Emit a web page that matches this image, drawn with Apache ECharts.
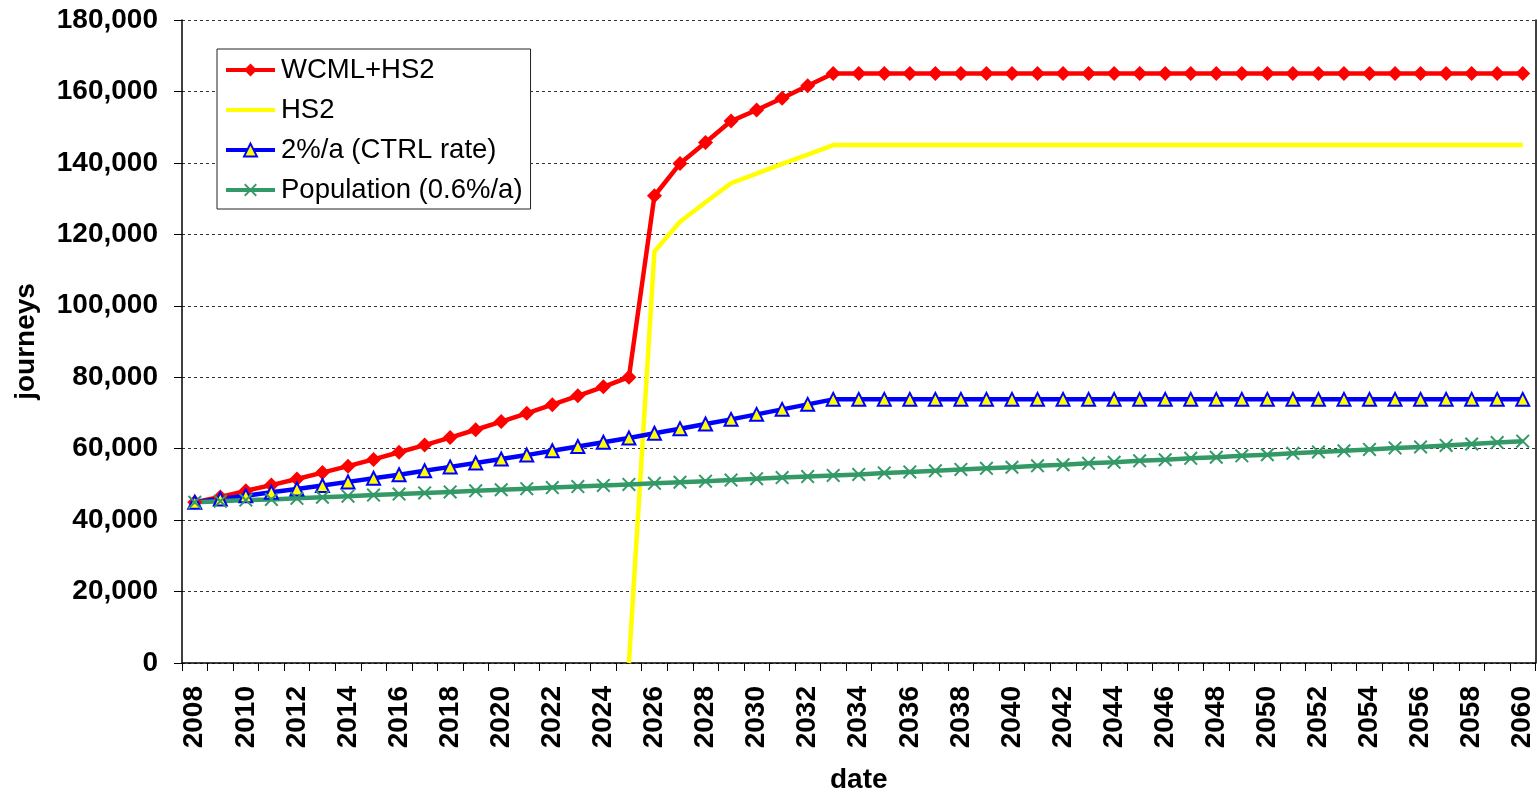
<!DOCTYPE html>
<html>
<head>
<meta charset="utf-8">
<script src="https://cdn.jsdelivr.net/npm/echarts@6/dist/echarts.min.js"></script>
<style>
html,body{margin:0;padding:0;background:#fff;overflow:hidden;}
#chart{width:100vw;height:100vh;}
</style>
</head>
<body>
<div id="chart"></div>
<script>
var years = ['2008','2009','2010','2011','2012','2013','2014','2015','2016','2017',
  '2018','2019','2020','2021','2022','2023','2024','2025','2026','2027',
  '2028','2029','2030','2031','2032','2033','2034','2035','2036','2037',
  '2038','2039','2040','2041','2042','2043','2044','2045','2046','2047',
  '2048','2049','2050','2051','2052','2053','2054','2055','2056','2057',
  '2058','2059','2060'];

var wcmlHs2 = [45000, 46500, 48200, 49800, 51500, 53300, 55100, 57000, 59000, 61000,
  63100, 65300, 67600, 69900, 72300, 74800, 77300, 80000,
  130800, 139800, 145700, 151700, 154800, 158100, 161600, 165000,
  165000, 165000, 165000, 165000, 165000, 165000, 165000, 165000, 165000,
  165000, 165000, 165000, 165000, 165000, 165000, 165000, 165000, 165000,
  165000, 165000, 165000, 165000, 165000, 165000, 165000, 165000, 165000];

var hs2 = [null, null, null, null, null, null, null, null, null, null,
  null, null, null, null, null, null, null, 0,
  115200, 123500, 129000, 134300, 137000, 139700, 142300, 145000,
  145000, 145000, 145000, 145000, 145000, 145000, 145000, 145000, 145000,
  145000, 145000, 145000, 145000, 145000, 145000, 145000, 145000, 145000,
  145000, 145000, 145000, 145000, 145000, 145000, 145000, 145000, 145000];

var ctrlRate = [45000, 45900, 46800, 47800, 48700, 49700, 50700, 51700, 52700, 53800,
  54900, 56000, 57100, 58200, 59400, 60600, 61800, 63000, 64300, 65600,
  66900, 68200, 69600, 71000, 72400, 73800,
  73800, 73800, 73800, 73800, 73800, 73800, 73800, 73800, 73800,
  73800, 73800, 73800, 73800, 73800, 73800, 73800, 73800, 73800,
  73800, 73800, 73800, 73800, 73800, 73800, 73800, 73800, 73800];

var population = [45000, 45300, 45600, 45800, 46100, 46400, 46700, 47000, 47300, 47600,
  47900, 48200, 48500, 48800, 49100, 49400, 49700, 50000, 50300, 50600,
  50900, 51200, 51600, 51900, 52200, 52500, 52800, 53200, 53500, 53800,
  54200, 54500, 54800, 55200, 55500, 55900, 56200, 56600, 56900, 57300,
  57600, 58000, 58300, 58700, 59100, 59400, 59800, 60200, 60500, 60900,
  61300, 61700, 62100];

var seriesNames = ['WCML+HS2', 'HS2', '2%/a (CTRL rate)', 'Population (0.6%/a)'];

var FONT = '"Liberation Sans", Arial, sans-serif';
var crossPath = 'path://M0,1L1,0L5,4L9,0L10,1L6,5L10,9L9,10L5,6L1,10L0,9L4,5Z';

var chart = echarts.init(document.getElementById('chart'), null, {renderer: 'canvas'});
chart.setOption({
  animation: false,
  backgroundColor: '#fff',
  textStyle: {fontFamily: FONT},
  grid: {left: 182, right: 1.5, top: 20, bottom: 131, containLabel: false, outerBoundsMode: 'none'},
  legend: {
    orient: 'vertical',
    left: 217, top: 49,
    padding: [7, 8, 5, 7],
    itemGap: 12,
    itemWidth: 49,
    itemHeight: 16,
    borderColor: '#222',
    borderWidth: 1,
    backgroundColor: '#fff',
    lineStyle: {width: 4},
    textStyle: {fontSize: 27.5, color: '#000', fontFamily: FONT, padding: [0, 0, 0, 1]},
    data: [seriesNames[0], {name: seriesNames[1], itemStyle: {opacity: 0}}, seriesNames[2], seriesNames[3]]
  },
  xAxis: {
    type: 'category',
    data: years,
    boundaryGap: true,
    name: 'date',
    nameLocation: 'middle',
    nameGap: 103,
    nameTextStyle: {fontSize: 28, fontWeight: 'bold', color: '#000', fontFamily: FONT},
    axisLine: {lineStyle: {color: '#000', width: 1.5}},
    axisTick: {show: true, interval: 0, length: 8, inside: false, lineStyle: {color: '#000'}},
    axisLabel: {interval: 1, rotate: 90, margin: 23, fontSize: 28, fontWeight: 'bold', color: '#000', fontFamily: FONT},
    splitLine: {show: false}
  },
  yAxis: [{
    type: 'value',
    min: 0, max: 180000, interval: 20000,
    name: 'journeys',
    nameLocation: 'middle',
    nameGap: 142,
    nameRotate: 90,
    nameTextStyle: {fontSize: 28, fontWeight: 'bold', color: '#000', fontFamily: FONT},
    axisLine: {show: true, lineStyle: {color: '#000', width: 1.5}},
    axisTick: {show: true, length: 8, lineStyle: {color: '#000'}},
    axisLabel: {
      margin: 24, fontSize: 28, fontWeight: 'bold', color: '#000', fontFamily: FONT,
      formatter: function (v) { return v.toLocaleString('en-US'); }
    },
    splitLine: {show: true, lineStyle: {color: '#333', type: [3, 3], width: 1}}
  }, {
    type: 'value',
    position: 'right',
    min: 0, max: 180000, interval: 20000,
    axisLine: {show: true, lineStyle: {color: '#000', width: 1.5}},
    axisTick: {show: false},
    axisLabel: {show: false},
    splitLine: {show: false}
  }],
  series: [{
    name: seriesNames[0],
    type: 'line',
    data: wcmlHs2,
    symbol: 'diamond',
    symbolSize: 15,
    itemStyle: {color: '#FF0000'},
    lineStyle: {color: '#FF0000', width: 4.5}
  }, {
    name: seriesNames[1],
    type: 'line',
    data: hs2,
    symbol: 'none',
    showSymbol: false,
    itemStyle: {color: '#FFFF00'},
    lineStyle: {color: '#FFFF00', width: 4.5}
  }, {
    name: seriesNames[2],
    type: 'line',
    data: ctrlRate,
    symbol: 'triangle',
    symbolSize: 13,
    itemStyle: {color: '#FFFF00', borderColor: '#0000FF', borderWidth: 2},
    lineStyle: {color: '#0000FF', width: 4.5}
  }, {
    name: seriesNames[3],
    type: 'line',
    data: population,
    symbol: crossPath,
    symbolSize: 14,
    itemStyle: {color: '#339966'},
    lineStyle: {color: '#339966', width: 4.5}
  }]
});
</script>
</body>
</html>
